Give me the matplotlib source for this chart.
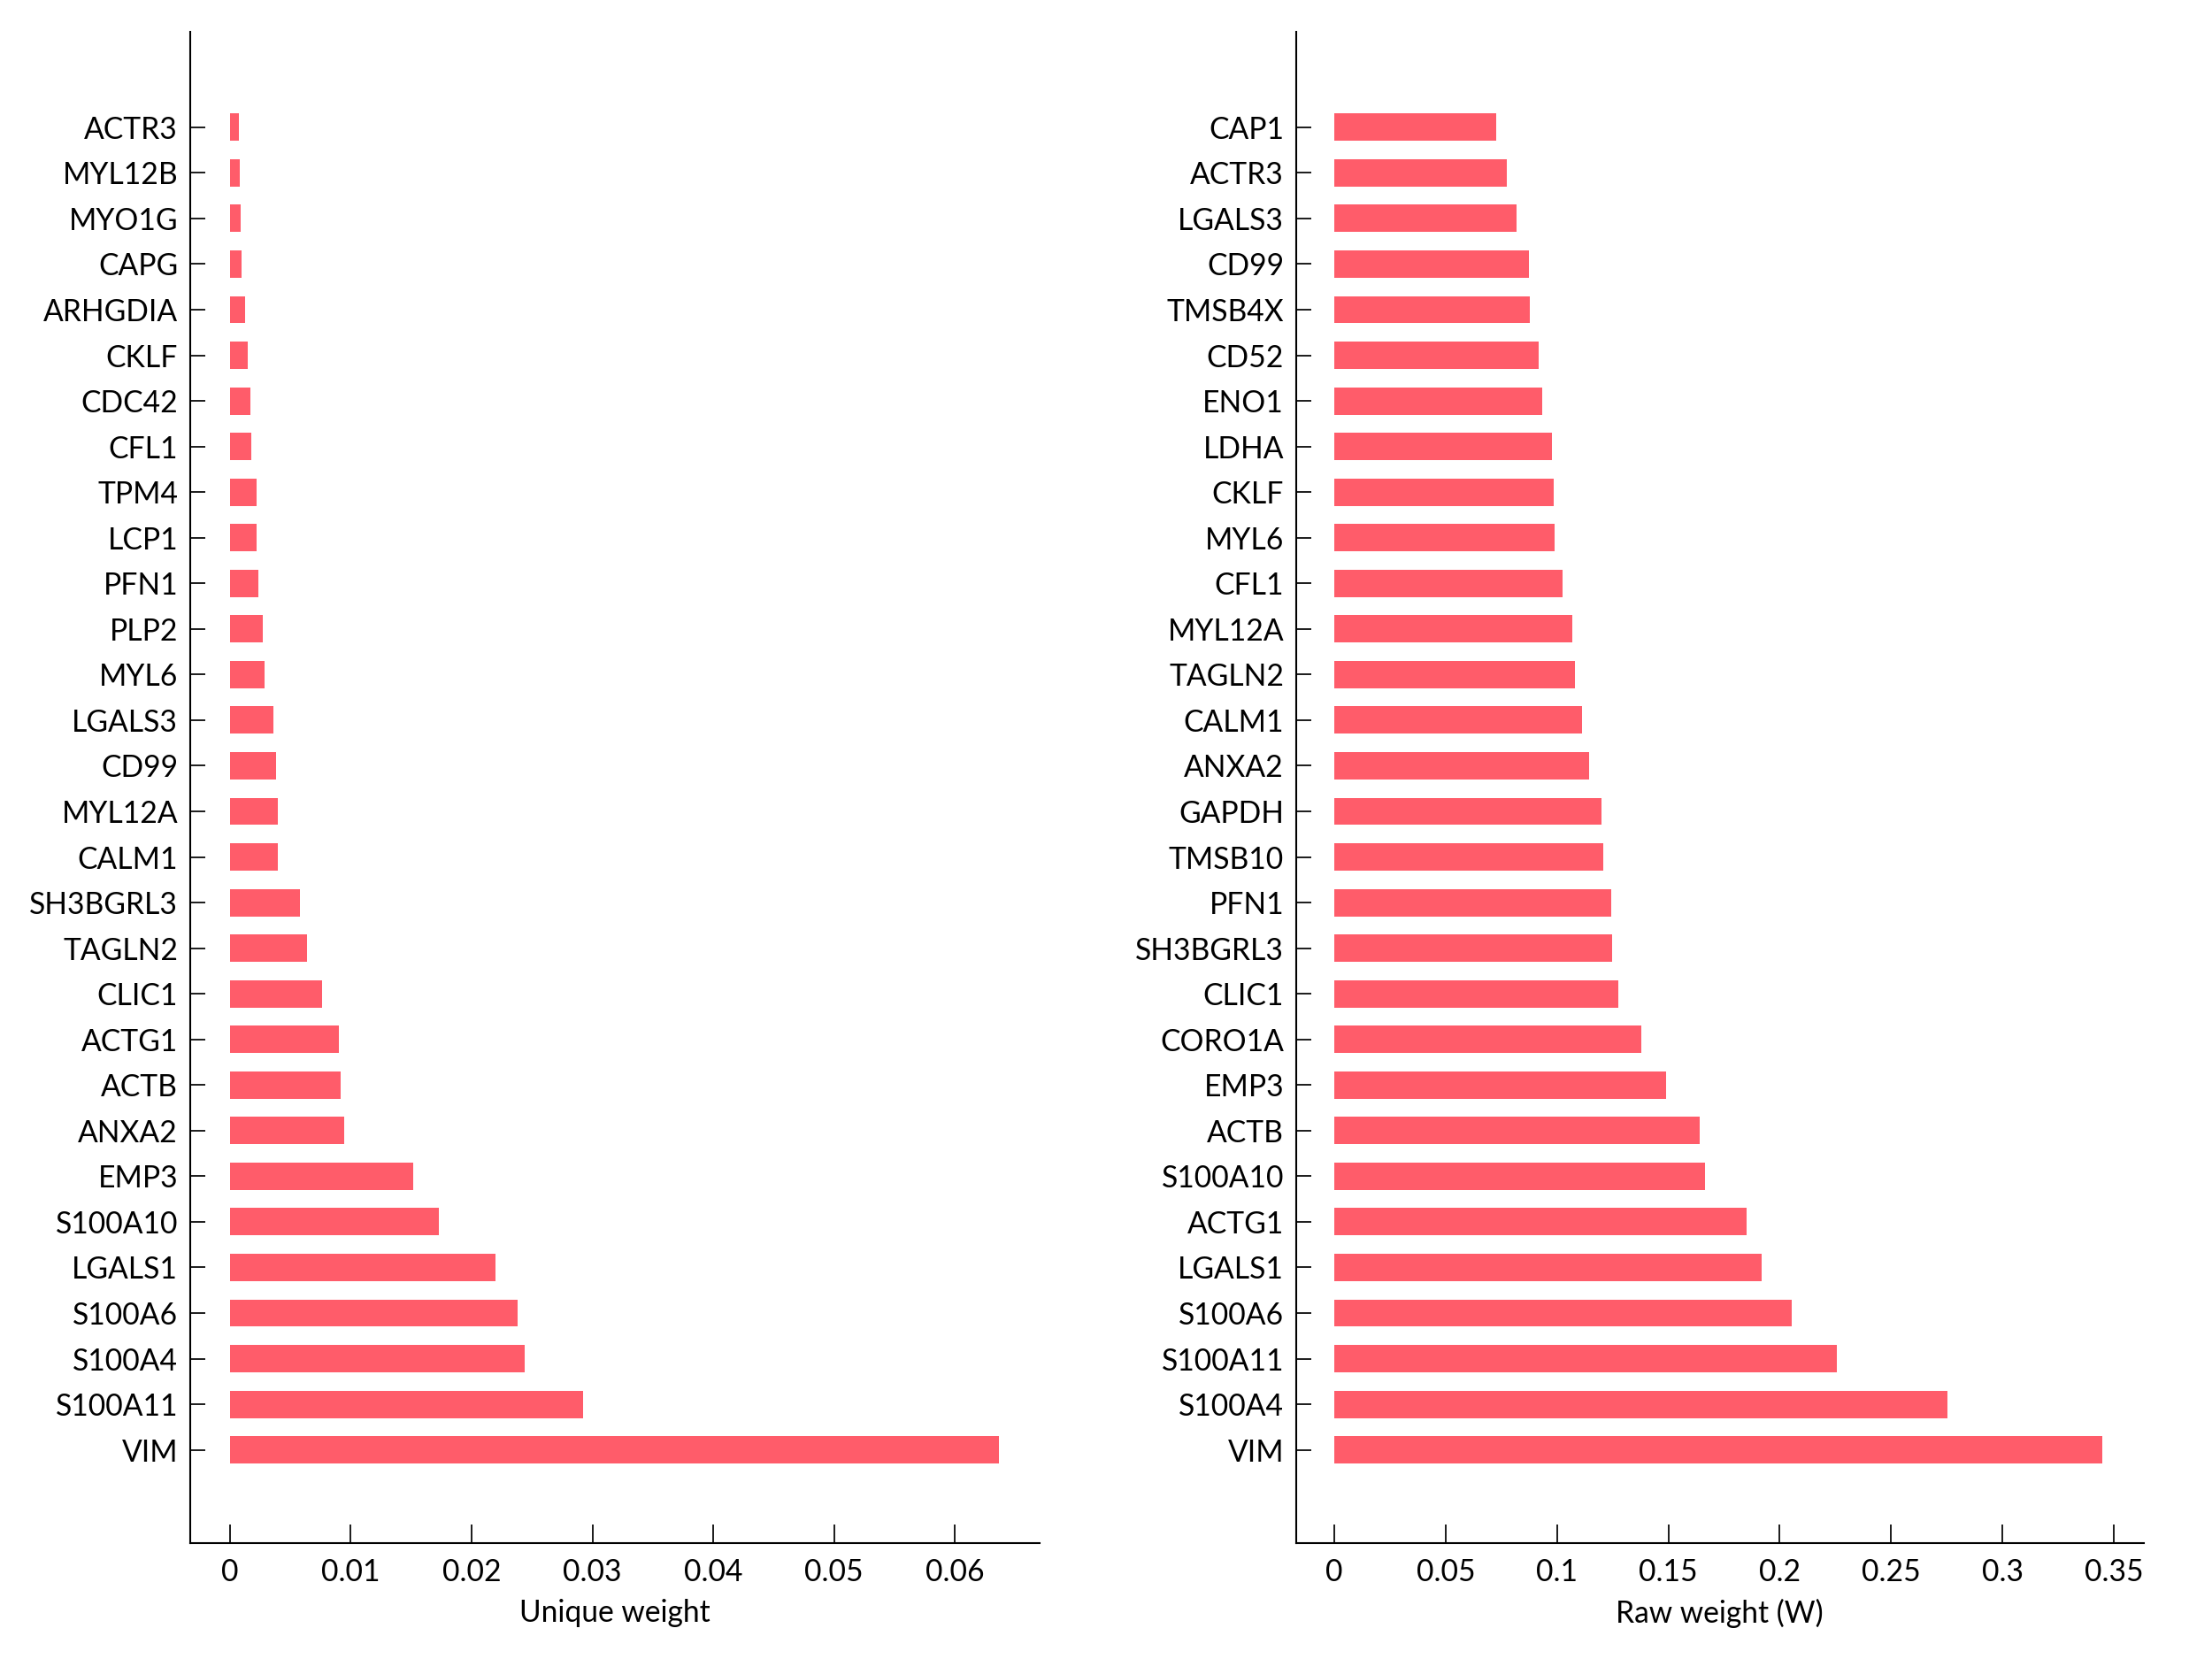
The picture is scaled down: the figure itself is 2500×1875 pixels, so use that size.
import numpy as np
import matplotlib
matplotlib.use("Agg")
import matplotlib.pyplot as plt

plt.rcParams['font.family'] = ['Lato', 'DejaVu Sans']

# genes, top to bottom as shown
unique_genes = ['ACTR3', 'MYL12B', 'MYO1G', 'CAPG', 'ARHGDIA', 'CKLF', 'CDC42', 'CFL1',
                'TPM4', 'LCP1', 'PFN1', 'PLP2', 'MYL6', 'LGALS3', 'CD99', 'MYL12A',
                'CALM1', 'SH3BGRL3', 'TAGLN2', 'CLIC1', 'ACTG1', 'ACTB', 'ANXA2', 'EMP3',
                'S100A10', 'LGALS1', 'S100A6', 'S100A4', 'S100A11', 'VIM']
unique_vals = [0.00072, 0.00082, 0.00092, 0.0010, 0.0013, 0.0015, 0.0017, 0.0018,
               0.0022, 0.0022, 0.0024, 0.0027, 0.0029, 0.0036, 0.0038, 0.0040,
               0.0040, 0.0058, 0.0064, 0.0076, 0.0090, 0.0092, 0.0095, 0.0152,
               0.0173, 0.0220, 0.0238, 0.0244, 0.0292, 0.0636]

raw_genes = ['CAP1', 'ACTR3', 'LGALS3', 'CD99', 'TMSB4X', 'CD52', 'ENO1', 'LDHA',
             'CKLF', 'MYL6', 'CFL1', 'MYL12A', 'TAGLN2', 'CALM1', 'ANXA2', 'GAPDH',
             'TMSB10', 'PFN1', 'SH3BGRL3', 'CLIC1', 'CORO1A', 'EMP3', 'ACTB', 'S100A10',
             'ACTG1', 'LGALS1', 'S100A6', 'S100A11', 'S100A4', 'VIM']
raw_vals = [0.0728, 0.0774, 0.0817, 0.0872, 0.0879, 0.0919, 0.0935, 0.0979,
            0.0986, 0.0990, 0.1025, 0.1070, 0.1079, 0.1111, 0.1143, 0.1200,
            0.1209, 0.1245, 0.1248, 0.1274, 0.1380, 0.1488, 0.1639, 0.1665,
            0.1851, 0.1917, 0.2052, 0.2257, 0.2755, 0.3449]

unique_ticks = [0, 0.01, 0.02, 0.03, 0.04, 0.05, 0.06]
unique_ticklabels = ['0', '0.01', '0.02', '0.03', '0.04', '0.05', '0.06']
raw_ticks = [0, 0.05, 0.1, 0.15, 0.2, 0.25, 0.3, 0.35]
raw_ticklabels = ['0', '0.05', '0.1', '0.15', '0.2', '0.25', '0.3', '0.35']

bar_col = '#ff5c6a'
fs = 9.7

fig = plt.figure(figsize=(10, 7.5), dpi=250)
ax1 = fig.add_axes([0.086, 0.070, 0.384, 0.911])
ax2 = fig.add_axes([0.586, 0.070, 0.383, 0.911])

def draw(ax, genes, vals, ticks, ticklabels, xlim, xlabel):
    y = np.arange(len(genes))[::-1]
    ax.barh(y, vals, height=0.6, color=bar_col, edgecolor='none')
    ax.set_yticks(y)
    ax.set_yticklabels(genes, fontsize=fs)
    ax.set_xticks(ticks)
    ax.set_xticklabels(ticklabels, fontsize=fs)
    ax.set_xlim(xlim)
    ax.set_ylim(-2.04, len(genes) - 1 + 2.1)
    ax.set_xlabel(xlabel, fontsize=fs, labelpad=4)
    ax.spines['top'].set_visible(False)
    ax.spines['right'].set_visible(False)
    ax.spines['left'].set_linewidth(0.6)
    ax.spines['bottom'].set_linewidth(0.6)
    ax.tick_params(axis='y', direction='in', length=5, width=0.5, pad=4)
    ax.tick_params(axis='x', direction='in', length=6, width=0.5, pad=5)

draw(ax1, unique_genes, unique_vals, unique_ticks, unique_ticklabels,
     (-0.00327, 0.0670), 'Unique weight')
draw(ax2, raw_genes, raw_vals, raw_ticks, raw_ticklabels,
     (-0.0171, 0.3633), 'Raw weight (W)')

plt.savefig('out.png', dpi=250)
